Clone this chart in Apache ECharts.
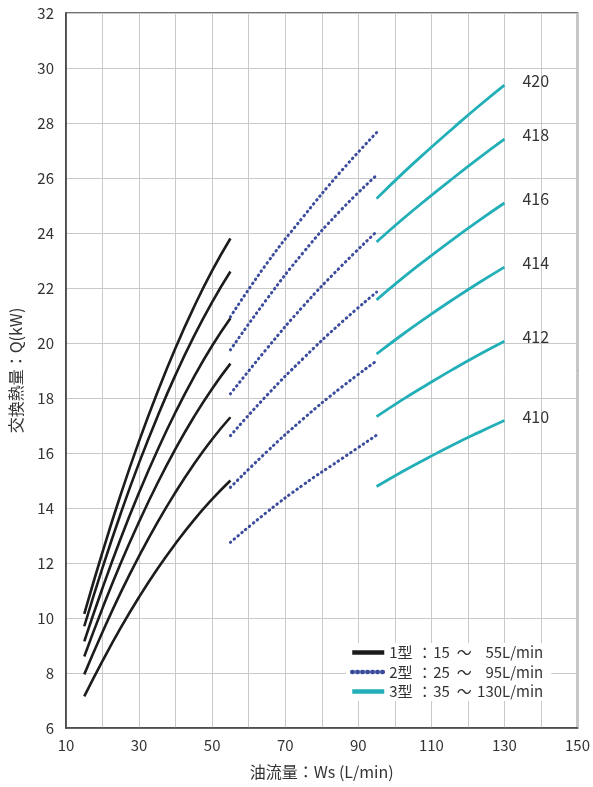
<!DOCTYPE html>
<html>
<head>
<meta charset="utf-8">
<script src="https://cdn.jsdelivr.net/npm/echarts@6/dist/echarts.min.js"></script>
<style>
html,body{margin:0;padding:0;background:#fff;}
#chart{width:593px;height:787px;}
</style>
</head>
<body>
<div id="chart"></div>
<script>
// ---- data ----
const xTicksMin = 10, xTicksMax = 150;
const yTicksMin = 6, yTicksMax = 32;

const type1X = [15, 20, 25, 30, 35, 40, 45, 50, 55];
const type1Q = [
  [10.15, 12.4, 14.5, 16.43, 18.2, 19.83, 21.3, 22.63, 23.8],
  [9.7, 11.83, 13.81, 15.64, 17.31, 18.85, 20.24, 21.49, 22.6],
  [9.15, 11.09, 12.9, 14.56, 16.09, 17.49, 18.76, 19.9, 20.9],
  [8.6, 10.36, 12.0, 13.5, 14.89, 16.16, 17.31, 18.34, 19.25],
  [7.95, 9.49, 10.93, 12.25, 13.47, 14.58, 15.59, 16.5, 17.3],
  [7.15, 8.44, 9.65, 10.76, 11.78, 12.71, 13.56, 14.32, 15.0]
];

const type2X = [55, 65, 75, 85, 95];
const type2Q = [
  [20.95, 22.9, 24.6, 26.2, 27.65],
  [19.75, 21.6, 23.3, 24.8, 26.1],
  [18.15, 19.8, 21.35, 22.75, 24.05],
  [16.63, 18.1, 19.45, 20.7, 21.85],
  [14.75, 16.05, 17.25, 18.35, 19.35],
  [12.75, 13.85, 14.85, 15.75, 16.65]
];

const type3X = [95, 102, 109, 116, 123, 130];
const type3Q = [
  [25.25, 26.15, 27.0, 27.82, 28.62, 29.38],
  [23.67, 24.49, 25.26, 26.0, 26.72, 27.41],
  [21.57, 22.35, 23.08, 23.78, 24.45, 25.09],
  [19.6, 20.3, 20.96, 21.59, 22.19, 22.76],
  [17.32, 17.93, 18.5, 19.05, 19.57, 20.06],
  [14.78, 15.32, 15.82, 16.3, 16.75, 17.18]
];
const type3Labels = ['420', '418', '416', '414', '412', '410'];

const legendNames = ['1型', '2型', '3型'];
const legendRanges = [['15', '55'], ['25', '95'], ['35', '130']];

// ---- chart ----
const FONT = '"Noto Sans CJK JP", "Noto Sans", sans-serif';
const C1 = '#1c1c1c', C2 = '#3b4c9c', C3 = '#22afb8';

function pairs(xs, ys) { return xs.map((x, i) => [x, ys[i]]); }

const series = [];
type1Q.forEach(q => series.push({
  name: legendNames[0], type: 'line', smooth: true, symbol: 'none',
  data: pairs(type1X, q), color: C1,
  lineStyle: { color: C1, width: 2.6 }, z: 3
}));
type2Q.forEach(q => series.push({
  name: legendNames[1], type: 'line', smooth: true, symbol: 'none',
  data: pairs(type2X, q), color: C2,
  lineStyle: { color: C2, width: 3, type: [0.6, 4.4], cap: 'round' }, z: 3
}));
type3Q.forEach((q, k) => series.push({
  name: legendNames[2], type: 'line', smooth: true, symbol: 'none',
  data: pairs(type3X, q), color: C3,
  lineStyle: { color: C3, width: 2.8 }, z: 3,
  endLabel: { show: true, formatter: type3Labels[k], offset: [10, -4],
              color: '#333', fontSize: 16, fontFamily: FONT }
}));

const chart = echarts.init(document.getElementById('chart'), null, { renderer: 'canvas' });
chart.setOption({
  animation: false,
  backgroundColor: '#fff',
  textStyle: { fontFamily: FONT },
  grid: { left: 65, right: 10, top: 13, bottom: 59, show: true,
          borderColor: '#444', borderWidth: 1.6, backgroundColor: 'transparent' },
  xAxis: {
    type: 'value', min: xTicksMin, max: xTicksMax, interval: 20,
    name: '油流量：Ws (L/min)', nameLocation: 'middle', nameGap: 36,
    nameTextStyle: { color: '#333', fontSize: 16, fontFamily: FONT },
    axisLine: { show: true, lineStyle: { color: '#444', width: 1.6 } },
    axisTick: { show: false },
    axisLabel: { color: '#333', fontSize: 15, margin: 10, fontFamily: FONT },
    splitLine: { show: true, lineStyle: { color: '#c9c9c9', width: 1 } },
    minorTick: { show: false, splitNumber: 2 },
    minorSplitLine: { show: true, lineStyle: { color: '#c9c9c9', width: 1 } }
  },
  yAxis: {
    type: 'value', min: yTicksMin, max: yTicksMax, interval: 2,
    name: '交換熱量：Q(kW)', nameLocation: 'middle', nameGap: 42, nameRotate: 90,
    nameTextStyle: { color: '#333', fontSize: 16, fontFamily: FONT },
    axisLine: { show: true, lineStyle: { color: '#444', width: 1.6 } },
    axisTick: { show: false },
    axisLabel: { color: '#333', fontSize: 15, margin: 12, fontFamily: FONT },
    splitLine: { show: true, lineStyle: { color: '#c9c9c9', width: 1 } }
  },
  legend: {
    show: true, orient: 'vertical', left: 346, top: 643,
    data: legendNames, itemWidth: 32, itemHeight: 13, itemGap: 4.5,
    backgroundColor: '#fff', padding: [2, 8, 2, 4],
    itemStyle: { opacity: 0 },
    lineStyle: { width: 4.5 },
    selectedMode: false,
    textStyle: {
      color: '#333', fontSize: 15, fontFamily: FONT,
      rich: {
        t: { width: 28, fontSize: 15, color: '#333', fontFamily: FONT },
        c: { width: 16, fontSize: 15, color: '#333', fontFamily: FONT },
        s: { width: 20, fontSize: 15, color: '#333', fontFamily: FONT },
        w: { width: 22, align: 'center', fontSize: 15, color: '#333', fontFamily: FONT },
        e: { width: 68, align: 'right', fontSize: 15, color: '#333', fontFamily: FONT }
      }
    },
    formatter: function (name) {
      const i = legendNames.indexOf(name);
      return '{t|' + name + '}{c|：}{s|' + legendRanges[i][0] + '}{w|～}{e|' + legendRanges[i][1] + 'L/min}';
    }
  },
  series: series
});
</script>
</body>
</html>
